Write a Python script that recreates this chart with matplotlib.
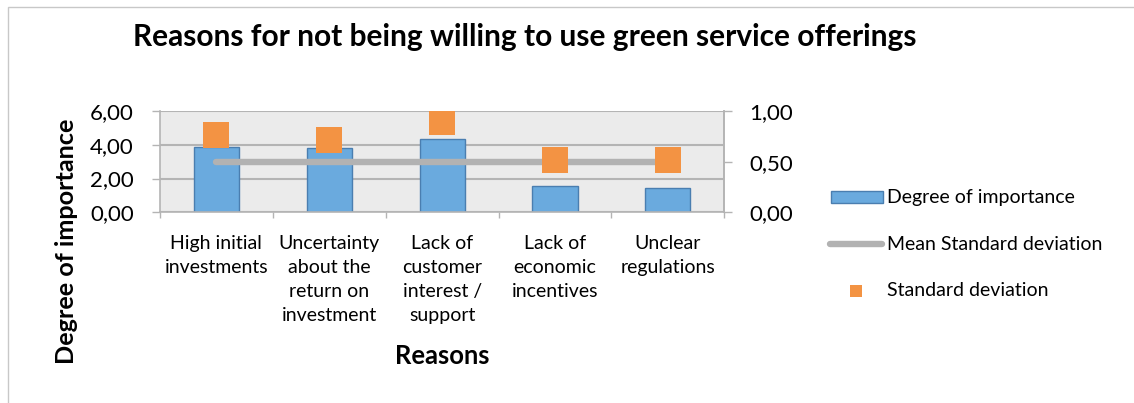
import matplotlib
matplotlib.use("Agg")
import matplotlib.pyplot as plt
from matplotlib.lines import Line2D
from matplotlib.patches import Rectangle
from matplotlib.transforms import blended_transform_factory

plt.rcParams['font.family'] = ['Lato', 'DejaVu Sans']

categories = ["High initial\ninvestments", "Uncertainty\nabout the\nreturn on\ninvestment",
              "Lack of\ncustomer\ninterest /\nsupport", "Lack of\neconomic\nincentives",
              "Unclear\nregulations"]
importance = [3.85, 3.78, 4.37, 1.54, 1.46]
std_dev = [0.765, 0.71, 0.89, 0.514, 0.514]
mean_std = [0.50, 0.50, 0.50, 0.50, 0.50]
left_ticks = [0, 2, 4, 6]
right_ticks = [0.0, 0.5, 1.0]
legend_labels = ["Degree of importance", "Mean Standard deviation", "Standard deviation"]

BLUE, BLUE_EDGE = '#6aaade', '#4a7eb0'
GREY_LINE = '#b2b2b2'
ORANGE = '#f39343'
GRID = '#b4b4b4'

W, H = 1134, 403
fig = plt.figure(figsize=(W / 100, H / 100), dpi=100)


def fx(px):
    return px / W


def fy(py):
    return 1 - py / H


# outer chart frame
fig.patches.append(Rectangle((fx(8), -0.1), 1.2, fy(7) + 0.1, transform=fig.transFigure,
                             fill=False, edgecolor='#c8c8c8', linewidth=1.0))

ax = fig.add_axes([fx(160), fy(212.3), (724.3 - 160) / W, (212.3 - 111) / H])
ax.set_facecolor('#ebebeb')
x = list(range(len(categories)))
ax.bar(x, importance, width=0.4, color=BLUE, edgecolor=BLUE_EDGE, linewidth=1.0, zorder=2)
ax.set_xlim(-0.5, len(categories) - 0.5)
ax.set_ylim(0, 6)
ax.set_yticks(left_ticks)
ax.set_yticklabels([f"{v:.2f}".replace('.', ',') for v in left_ticks], fontsize=16)
ax.yaxis.grid(True, color=GRID, linewidth=1.5, zorder=0)
ax.set_axisbelow(True)
ax.set_xticks([i - 0.5 for i in range(len(categories) + 1)])
ax.set_xticklabels([])
ax.tick_params(axis='x', length=4.5, width=1.0, color=GRID)
ax.tick_params(axis='y', length=5.8, width=1.0, color=GRID, pad=13)
ax.spines['top'].set_visible(False)
for s in ['left', 'right', 'bottom']:
    ax.spines[s].set_color(GRID)
    ax.spines[s].set_linewidth(1.2)

# category labels under each group
label_tr = blended_transform_factory(ax.transData, fig.transFigure)
for i, c in enumerate(categories):
    fig.text(i, fy(235), c, ha='center', va='top', fontsize=14, linespacing=1.5,
             transform=label_tr)

ax2 = ax.twinx()
ax2.set_ylim(0, 1)
ax2.set_yticks(right_ticks)
ax2.set_yticklabels([f"{v:.2f}".replace('.', ',') for v in right_ticks], fontsize=16)
ax2.tick_params(axis='y', length=5.8, width=1.0, color=GRID, pad=12)
for s in ['top', 'left', 'bottom']:
    ax2.spines[s].set_visible(False)
ax2.spines['right'].set_color(GRID)
ax2.spines['right'].set_linewidth(1.2)
ax2.plot(x, mean_std, color=GREY_LINE, linewidth=4.6, solid_capstyle='round', zorder=3)
ax2.plot(x, std_dev, linestyle='none', marker='s', markersize=19.2, color=ORANGE,
         markeredgewidth=0, zorder=4)
ax2.set_zorder(ax.get_zorder() + 1)
ax2.patch.set_visible(False)

fig.text(fx(525), fy(37), "Reasons for not being willing to use green service offerings",
         ha='center', va='center', fontsize=21.5, fontweight='bold')
fig.text(fx(67), fy(241), "Degree of importance", rotation=90, ha='center', va='center',
         fontsize=18.2, fontweight='bold')
fig.text(fx(442), fy(356), "Reasons", ha='center', va='center', fontsize=18.4,
         fontweight='bold')

# legend, laid out row by row
rows_y = [197, 244, 291]
fig.patches.append(Rectangle((fx(831), fy(203)), (883 - 831) / W, (203 - 191) / H,
                             transform=fig.transFigure, facecolor=BLUE,
                             edgecolor=BLUE_EDGE, linewidth=1.0))
fig.lines.append(Line2D([fx(830), fx(882)], [fy(rows_y[1])] * 2, transform=fig.transFigure,
                        color=GREY_LINE, linewidth=4.6, solid_capstyle='round'))
fig.lines.append(Line2D([fx(856)], [fy(rows_y[2])], transform=fig.transFigure,
                        linestyle='none', marker='s', markersize=8.6, color=ORANGE,
                        markeredgewidth=0))
for yy, lab in zip(rows_y, legend_labels):
    fig.text(fx(887), fy(yy), lab, ha='left', va='center', fontsize=14)

fig.savefig("out.png", dpi=100)
